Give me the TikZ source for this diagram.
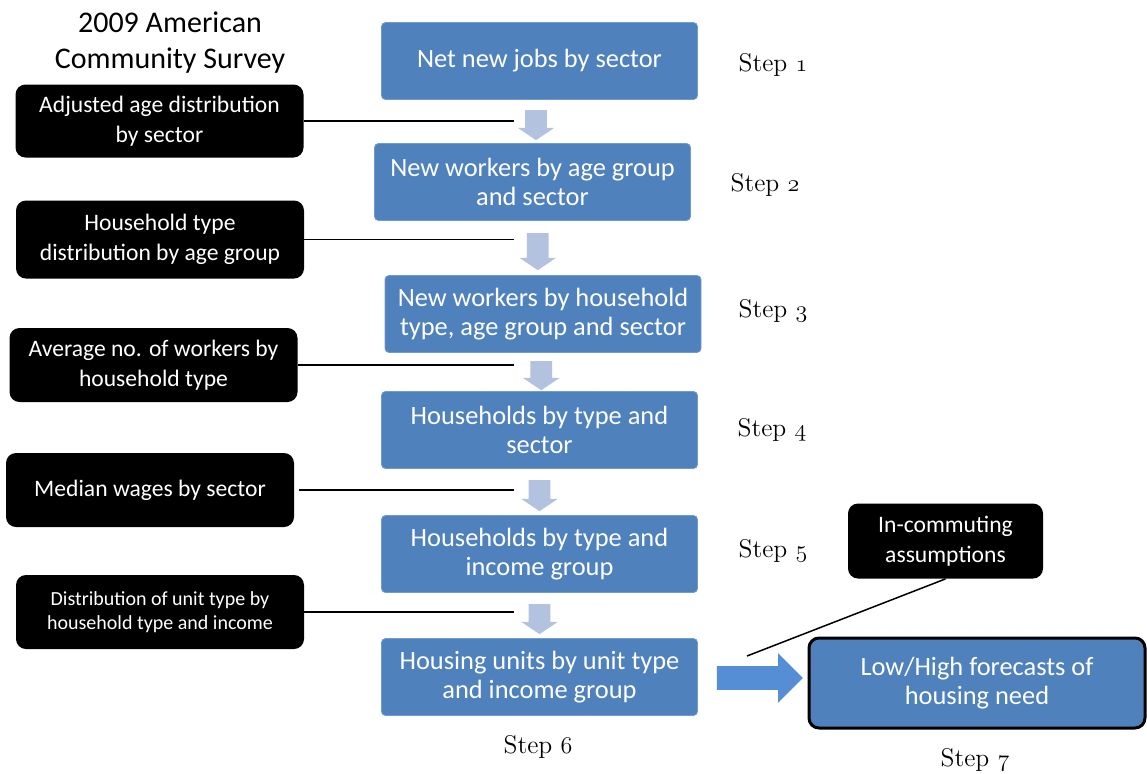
\documentclass[tikz,border=0pt]{standalone}
\usepackage{fontspec}
\setmainfont{Carlito}
\newfontfamily\stepfamily{Latin Modern Roman}
\usetikzlibrary{shapes.arrows,calc}
\definecolor{stageblue}{HTML}{4F81BD}
\definecolor{flowblue}{HTML}{B3C3DF}
\definecolor{pushblue}{HTML}{558ED5}
\tikzset{
  stage/.style={rectangle, rounded corners=2pt, fill=stageblue, draw=stageblue!80!white,
    text=white, align=center, inner sep=0pt, minimum width=158pt, minimum height=38.5pt,
    font=\fontsize{13.2}{14.5}\selectfont},
  source/.style={rectangle, rounded corners=5pt, fill=black, text=white, align=center,
    inner sep=0pt, minimum width=144pt, minimum height=37pt,
    font=\fontsize{11.8}{15}\selectfont},
  flow/.style={single arrow, shape border rotate=270, fill=flowblue, inner sep=5.25pt,
    single arrow head extend=3.75pt, single arrow tip angle=112},
  feed/.style={line width=0.9pt},
  steplabel/.style={font=\stepfamily\fontsize{12.8}{15}\selectfont},
}
\newcommand{\stepno}[1]{Step $\mathnormal{#1}$}
\begin{document}
\begin{tikzpicture}[x=0.5pt,y=-0.5pt]
    \useasboundingbox (0,0) rectangle (1147,773);
    % survey title
    \node[align=center, font=\fontsize{15}{18}\selectfont] (acs) at (170,43) {2009 American\\Community Survey};
    % main chain
    \node[stage] (jobs) at (539.5,61) {Net new jobs by sector};
    \node[stage] (age) at (532.5,182) {New workers by age group\\and sector};
    \node[stage] (hhtype) at (543,314) {New workers by household\\type, age group and sector};
    \node[stage] (hh) at (539.5,430) {Households by type and\\sector};
    \node[stage] (income) at (539.5,554) {Households by type and\\income group};
    \node[stage] (units) at (539.5,677) {Housing units by unit type\\and income group};
    \node[stage, draw=black, line width=1.5pt, rounded corners=5pt, minimum width=168pt, minimum height=45pt]
        (need) at (977,683) {Low/High forecasts of\\housing need};
    % inputs
    \node[source, minimum height=36.5pt] (agedist) at (159.5,121) {Adjusted age distribution\\by sector};
    \node[source, minimum height=39pt] (typedist) at (160,239.5) {Household type\\distribution by age group};
    \node[source] (avgwork) at (153.5,365) {Average no. of workers by\\household type};
    \node[source] (wages) at (150,490) {Median wages by sector};
    \node[source, font=\fontsize{10}{12}\selectfont] (unitdist) at (160,612) {Distribution of unit type by\\household type and income};
    \node[source, minimum width=97.5pt, minimum height=37.5pt] (commute) at (945.5,541) {In-commuting\\assumptions};
    % step labels
    \node[steplabel] (s1) at (773,65) {\stepno{1}};
    \node[steplabel] (s2) at (765,185) {\stepno{2}};
    \node[steplabel] (s3) at (773,311) {\stepno{3}};
    \node[steplabel] (s4) at (772,430) {\stepno{4}};
    \node[steplabel] (s5) at (773,551) {\stepno{5}};
    \node[steplabel] (s6) at (538,747) {\stepno{6}};
    \node[steplabel] (s7) at (975,760) {\stepno{7}};
    % block arrows
    \node[flow, minimum height=15pt] (f1) at ($(jobs.south)!0.5!(age.north)$) {};
    \node[flow, minimum height=18.5pt] (f2) at ($(age.south)!0.5!(hhtype.north)$) {};
    \node[flow, minimum height=12.5pt] (f3) at ($(hhtype.south)!0.5!(hh.north)$) {};
    \node[flow, minimum height=15.5pt] (f4) at ($(hh.south)!0.5!(income.north)$) {};
    \node[flow, minimum height=15pt] (f5) at ($(income.south)!0.5!(units.north)$) {};
    \node[single arrow, fill=pushblue, inner sep=5.75pt, minimum height=43pt,
        single arrow head extend=6.5pt] (push) at (754,678) {};
    % feed lines
    \coordinate (rail) at (514,0);
    \coordinate (tap) at (747,656);
    \draw[feed] (agedist.east) -- (agedist.east -| rail);
    \draw[feed] (typedist.east) -- (typedist.east -| rail);
    \draw[feed] (avgwork.east) -- (avgwork.east -| rail);
    \draw[feed] ([xshift=2.5pt]wages.east) -- (wages.east -| rail);
    \draw[feed] (unitdist.east) -- (unitdist.east -| rail);
    \draw[line width=0.75pt] (commute.south) -- (tap);
\end{tikzpicture}
\end{document}
